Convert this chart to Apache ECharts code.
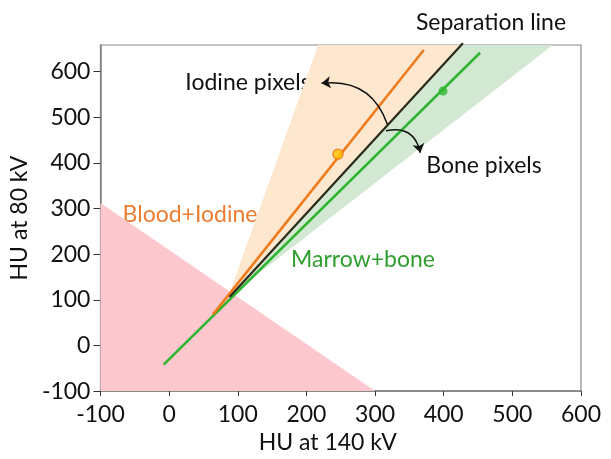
<!DOCTYPE html>
<html>
<head>
<meta charset="utf-8">
<script src="https://cdn.jsdelivr.net/npm/echarts@6/dist/echarts.min.js"></script>
<style>
html,body{margin:0;padding:0;background:#fff;}
#c{width:611px;height:459px;}
</style>
</head>
<body>
<div id="c"></div>
<script>
// ---- data (HU at 140 kV = x, HU at 80 kV = y) ----
const xTicks = [-100, 0, 100, 200, 300, 400, 500, 600];
const yTicks = [-100, 0, 100, 200, 300, 400, 500, 600];

// soft tissue region polygon
const softX = [-100, -100, 300];
const softY = [-100, 312, -100];
// iodine pixels wedge
const iodineWedgeX = [86, 217, 427];
const iodineWedgeY = [106, 658, 658];
// bone pixels wedge
const boneWedgeX = [86, 427, 559];
const boneWedgeY = [106, 658, 658];

// lines
const bloodIodineX = [64, 371];
const bloodIodineY = [68, 647];
const separationX = [88, 428];
const separationY = [106, 662];
const marrowBoneX = [-8, 453];
const marrowBoneY = [-42, 641];

// markers
const iodinePointX = [246];
const iodinePointY = [419];
const bonePointX = [399];
const bonePointY = [557];

// annotation arrows (data coords)
const arrowIodine = [[318, 484], [222, 574]];
const arrowBone = [[316, 470], [366, 422]];

const FONT = 'Lato';
const FS = 23;

function zip(xs, ys) { return xs.map((x, i) => [x, ys[i]]); }

function polySeries(name, xs, ys, color) {
  const pts = zip(xs, ys);
  return {
    type: 'custom', name: name, data: pts, silent: true, z: 1,
    renderItem: function (params, api) {
      if (params.dataIndex !== 0) return null;
      return {
        type: 'polygon',
        shape: { points: pts.map(p => api.coord(p)) },
        style: { fill: color }
      };
    }
  };
}

function lineSeries(name, xs, ys, color, width) {
  return {
    type: 'line', name: name, data: zip(xs, ys), showSymbol: false, symbol: 'none',
    lineStyle: { color: color, width: width }, clip: false, z: 3, silent: true
  };
}

const chart = echarts.init(document.getElementById('c'), null, { renderer: 'canvas' });

const option = {
  animation: false,
  backgroundColor: '#ffffff',
  grid: { left: 100, right: 30, top: 45, bottom: 63, show: true, borderColor: '#8a8a8a', borderWidth: 1.2 },
  xAxis: {
    type: 'value', min: xTicks[0], max: xTicks[xTicks.length - 1], interval: 100,
    name: 'HU at 140 kV', nameLocation: 'middle', nameGap: 36,
    nameTextStyle: { fontFamily: FONT, fontSize: FS, color: '#111', padding: [0, 26, 0, 0] },
    axisLine: { onZero: false, lineStyle: { color: '#7f7f7f', width: 1.5 } },
    axisTick: { show: true, inside: false, length: 5, lineStyle: { color: '#333' } },
    axisLabel: { fontFamily: FONT, fontSize: FS, color: '#111', margin: 12 },
    splitLine: { show: false }
  },
  yAxis: {
    type: 'value', min: yTicks[0], max: 658, interval: 100,
    name: 'HU at 80 kV', nameLocation: 'middle', nameGap: 64, nameRotate: 90,
    nameTextStyle: { fontFamily: FONT, fontSize: FS, color: '#111' },
    axisLine: { show: true, onZero: false, lineStyle: { color: '#7f7f7f', width: 1.5 } },
    axisTick: { show: true, inside: false, length: 7, lineStyle: { color: '#333' } },
    axisLabel: { fontFamily: FONT, fontSize: FS, color: '#111', margin: 10, showMaxLabel: false,
      formatter: v => (v % 100 === 0 ? String(v) : '') },
    splitLine: { show: false }
  },
  series: [
    polySeries('Iodine pixels', iodineWedgeX, iodineWedgeY, '#fde7cf'),
    polySeries('Bone pixels', boneWedgeX, boneWedgeY, '#d2e8d2'),
    polySeries('Soft tissue', softX, softY, '#fcc8ce'),
    lineSeries('Marrow+bone', marrowBoneX, marrowBoneY, '#2db52d', 2.5),
    lineSeries('Blood+Iodine', bloodIodineX, bloodIodineY, '#f07a1a', 2.5),
    lineSeries('Separation line', separationX, separationY, '#2a2a18', 2.2),
    {
      type: 'scatter', name: 'Iodine point', data: zip(iodinePointX, iodinePointY),
      symbolSize: 10, itemStyle: { color: '#ffc000', borderColor: '#f07a1a', borderWidth: 1.5 }, z: 5, silent: true
    },
    {
      type: 'scatter', name: 'Bone point', data: zip(bonePointX, bonePointY),
      symbolSize: 9, itemStyle: { color: '#2db52d' }, z: 5, silent: true
    },
    {
      type: 'lines', coordinateSystem: 'cartesian2d', silent: true, z: 6,
      symbol: ['none', 'arrow'], symbolSize: 9,
      lineStyle: { color: '#111', width: 1.5, opacity: 1 },
      data: [
        { coords: arrowIodine, lineStyle: { curveness: -0.4 } },
        { coords: arrowBone, lineStyle: { curveness: 0.5 } }
      ]
    }
  ],
  graphic: [
    { type: 'text', x: 491, y: 23, style: { text: 'Separation line', fontFamily: FONT, fontSize: FS, fill: '#111', align: 'center', verticalAlign: 'middle' } },
    { type: 'text', x: 248, y: 83, style: { text: 'Iodine pixels', fontFamily: FONT, fontSize: FS, fill: '#111', align: 'center', verticalAlign: 'middle' } },
    { type: 'text', x: 484, y: 166, style: { text: 'Bone pixels', fontFamily: FONT, fontSize: FS, fill: '#111', align: 'center', verticalAlign: 'middle' } },
    { type: 'text', x: 190, y: 215, style: { text: 'Blood+Iodine', fontFamily: FONT, fontSize: FS, fill: '#ed7d31', align: 'center', verticalAlign: 'middle' } },
    { type: 'text', x: 363, y: 260, style: { text: 'Marrow+bone', fontFamily: FONT, fontSize: FS, fill: '#2f9e2f', align: 'center', verticalAlign: 'middle' } },
    { type: 'text', x: 147, y: 295, style: { text: 'Soft', fontFamily: FONT, fontSize: FS, fill: '#ff0000', align: 'center', verticalAlign: 'middle' } },
    { type: 'text', x: 147, y: 326, style: { text: 'tissue', fontFamily: FONT, fontSize: FS, fill: '#ff0000', align: 'center', verticalAlign: 'middle' } }
  ]
};
chart.setOption(option);
</script>
</body>
</html>
